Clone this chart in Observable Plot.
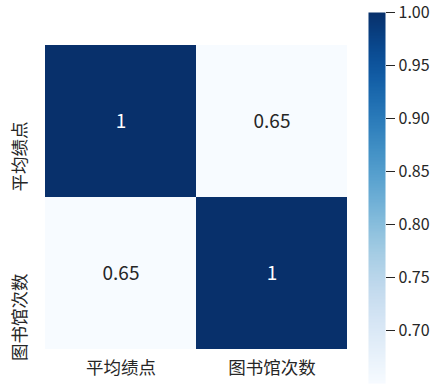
<!DOCTYPE html>
<html>
<head>
<meta charset="utf-8">
<script src="https://cdn.jsdelivr.net/npm/d3@7"></script>
<script src="https://cdn.jsdelivr.net/npm/@observablehq/plot@0.6"></script>
<style>
  html, body { margin: 0; padding: 0; background: #fff; }
  #wrap { position: relative; width: 440px; height: 386px; font-family: "Noto Sans CJK SC", sans-serif; }
  #heat { position: absolute; left: 0; top: 0; }
  #bar { position: absolute; left: 368px; top: 0; }
</style>
</head>
<body>
<div id="wrap"><div id="heat"></div><div id="bar"></div></div>
<script>
const rows = ["平均绩点", "图书馆次数"];
const cols = ["平均绩点", "图书馆次数"];
const values = [
  [1, 0.65],
  [0.65, 1]
];
const colorDomain = [0.65, 1];
const colorTicks = [0.70, 0.75, 0.80, 0.85, 0.90, 0.95, 1.00];

const cells = [];
rows.forEach((r, i) => cols.forEach((c, j) => cells.push({row: r, col: c, v: values[i][j]})));

const font = "Noto Sans CJK SC";
const color = {type: "linear", scheme: "blues", domain: colorDomain};

const heat = Plot.plot({
  width: 360, height: 386,
  marginLeft: 45, marginRight: 13, marginTop: 45, marginBottom: 37,
  style: {fontFamily: font, background: "transparent"},
  x: {domain: cols, padding: 0, axis: null},
  y: {domain: rows, padding: 0, axis: null},
  color,
  marks: [
    Plot.cell(cells, {x: "col", y: "row", fill: "v", inset: 0}),
    Plot.text(cells, {x: "col", y: "row", text: d => String(d.v), fill: d => d.v > 0.85 ? "#ffffff" : "#262626", fontSize: 19}),
    Plot.text(cols, {x: d => d, text: d => d, frameAnchor: "bottom", dy: 24, fontSize: 17.5, fill: "#262626"}),
    Plot.text(rows, {y: d => d, text: d => d, frameAnchor: "left", dx: -25, rotate: -90, textAnchor: "end", fontSize: 17.5, fill: "#262626"})
  ]
});
document.getElementById("heat").appendChild(heat);

const bar = Plot.plot({
  width: 72, height: 386,
  marginLeft: 0, marginRight: 55, marginTop: 12, marginBottom: 3,
  style: {fontFamily: font, background: "transparent"},
  x: {domain: [0, 1], axis: null},
  y: {domain: colorDomain, axis: null},
  color,
  marks: [
    Plot.raster({x1: 0, x2: 1, y1: colorDomain[0], y2: colorDomain[1], width: 1, height: 256, fill: (x, y) => y, imageRendering: "auto"}),
    Plot.axisY({anchor: "right", ticks: colorTicks, tickFormat: d3.format(".2f"), tickSize: 9, tickPadding: 4, fontSize: 16, color: "#262626", stroke: "#262626"})
  ]
});
document.getElementById("bar").appendChild(bar);
</script>
</body>
</html>
